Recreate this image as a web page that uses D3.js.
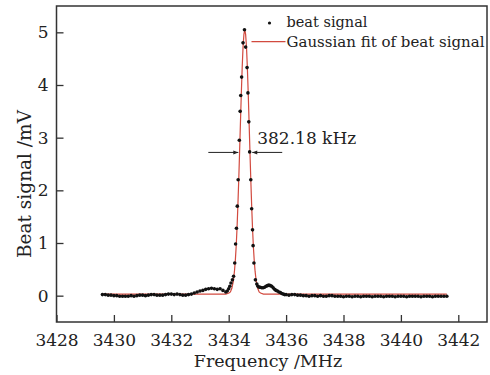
<!DOCTYPE html>
<html>
<head>
<meta charset="utf-8">
<script src="https://cdn.jsdelivr.net/npm/d3@7"></script>
<style>
  body { margin: 0; background: #fff; }
  svg text { font-family: "DejaVu Serif", serif; fill: #222; }
</style>
</head>
<body>
<svg></svg>
<script>
// Tick values
const xTicks = [3428, 3430, 3432, 3434, 3436, 3438, 3440, 3442];
const yTicks = [0, 1, 2, 3, 4, 5];

// Measured beat signal [MHz, mV]
const beatSignal = [
  [3429.6, 0.02], [3429.7, 0.02], [3429.8, 0.01], [3429.9, 0.01], [3430.0, 0.00], [3430.1, 0.00],
  [3430.2, -0.01], [3430.3, -0.01], [3430.4, -0.01], [3430.5, -0.01], [3430.6, 0.00], [3430.7, -0.01],
  [3430.8, 0.00], [3430.9, 0.01], [3431.0, 0.01], [3431.1, 0.00], [3431.2, 0.01], [3431.3, 0.02],
  [3431.4, 0.02], [3431.5, 0.01], [3431.6, 0.01], [3431.7, 0.01], [3431.8, 0.02], [3431.9, 0.03],
  [3432.0, 0.03], [3432.1, 0.02], [3432.2, 0.03], [3432.3, 0.02], [3432.4, 0.01], [3432.5, 0.01],
  [3432.6, 0.02], [3432.7, 0.03], [3432.8, 0.05], [3432.9, 0.07], [3433.0, 0.09], [3433.1, 0.10],
  [3433.2, 0.12], [3433.3, 0.13], [3433.4, 0.14], [3433.5, 0.13], [3433.6, 0.12], [3433.7, 0.13],
  [3433.8, 0.10], [3433.9, 0.07], [3433.95, 0.09], [3434.0, 0.13], [3434.04, 0.18], [3434.08, 0.24],
  [3434.13, 0.30], [3434.17, 0.37], [3434.21, 0.62], [3434.24, 0.98], [3434.27, 1.28], [3434.30, 1.70],
  [3434.33, 2.20], [3434.37, 2.95], [3434.40, 3.50], [3434.42, 3.80], [3434.45, 4.15], [3434.50, 4.80],
  [3434.55, 5.05], [3434.59, 4.72], [3434.64, 4.33], [3434.67, 3.85], [3434.70, 3.30], [3434.73, 2.73],
  [3434.77, 2.20], [3434.80, 1.65], [3434.83, 1.25], [3434.85, 0.95], [3434.88, 0.62], [3434.93, 0.30],
  [3434.98, 0.22], [3435.02, 0.18], [3435.06, 0.16], [3435.1, 0.16], [3435.15, 0.15], [3435.2, 0.15],
  [3435.25, 0.16], [3435.3, 0.18], [3435.35, 0.19], [3435.4, 0.20], [3435.45, 0.19], [3435.5, 0.18],
  [3435.55, 0.15], [3435.6, 0.12], [3435.65, 0.10], [3435.7, 0.09], [3435.75, 0.07], [3435.8, 0.06],
  [3435.85, 0.04], [3435.9, 0.03], [3435.95, 0.02], [3436.0, 0.02],
  [3436.1, 0.01], [3436.2, 0.02], [3436.3, 0.02], [3436.4, 0.01], [3436.5, 0.01], [3436.6, 0.00],
  [3436.7, 0.00], [3436.8, -0.01], [3436.9, 0.00], [3437.0, 0.00], [3437.1, -0.01], [3437.2, 0.00],
  [3437.3, -0.01], [3437.4, -0.01], [3437.5, 0.00], [3437.6, 0.00], [3437.7, -0.01], [3437.8, -0.01],
  [3437.9, -0.01], [3438.0, -0.02], [3438.1, -0.01], [3438.2, -0.01], [3438.3, -0.02], [3438.4, -0.01],
  [3438.5, -0.01], [3438.6, -0.02], [3438.7, -0.01], [3438.8, -0.01], [3438.9, -0.01], [3439.0, -0.02],
  [3439.1, -0.01], [3439.2, -0.01], [3439.3, -0.01], [3439.4, -0.02], [3439.5, -0.01], [3439.6, -0.01],
  [3439.7, -0.01], [3439.8, -0.02], [3439.9, -0.01], [3440.0, -0.01], [3440.1, -0.01], [3440.2, -0.02],
  [3440.3, -0.01], [3440.4, -0.01], [3440.5, -0.01], [3440.6, -0.01], [3440.7, -0.02], [3440.8, -0.01],
  [3440.9, -0.01], [3441.0, -0.01], [3441.1, -0.02], [3441.2, -0.01], [3441.3, -0.01], [3441.4, -0.01],
  [3441.5, -0.01], [3441.6, -0.01]
];

// Gaussian fit curve [MHz, mV]
const gaussFit = [
  [3429.6, 0.03], [3433.9, 0.03], [3434.01, 0.05], [3434.06, 0.07], [3434.11, 0.14], [3434.16, 0.27],
  [3434.20, 0.46], [3434.23, 0.66], [3434.26, 0.93], [3434.29, 1.28], [3434.32, 1.71], [3434.35, 2.20],
  [3434.38, 2.74], [3434.41, 3.30], [3434.44, 3.85], [3434.47, 4.33], [3434.50, 4.72], [3434.53, 4.96],
  [3434.56, 5.05], [3434.59, 4.96], [3434.62, 4.72], [3434.65, 4.33], [3434.68, 3.85], [3434.71, 3.30],
  [3434.74, 2.74], [3434.77, 2.20], [3434.80, 1.71], [3434.83, 1.28], [3434.86, 0.93], [3434.89, 0.66],
  [3434.92, 0.46], [3434.96, 0.27], [3435.01, 0.14], [3435.06, 0.07], [3435.11, 0.05], [3435.21, 0.03],
  [3441.6, 0.03]
];

// FWHM marker: left/right edges at half maximum
const fwhmEdges = [3434.37, 3434.75];
const fwhmLevel = 2.72;
const fwhmLabel = "382.18 kHz";

const legendLabels = ["beat signal", "Gaussian fit of beat signal"];

// Sizes
const W = 490, H = 375;
const margin = { l: 56.5, r: 3, t: 6, b: 53 };
const width = W - margin.l - margin.r;
const height = H - margin.t - margin.b;
const ink = "#333";
const red = "#d24a3f";

const svg = d3.select("svg")
  .attr("width", W)
  .attr("height", H);

const g = svg.append("g")
  .attr("transform", `translate(${margin.l},${margin.t})`);

// Scales
const x = d3.scaleLinear().domain([3428, 3443]).range([0, width]);
const y = d3.scaleLinear().domain([-0.5, 5.5]).range([height, 0]);

// Axes with inward ticks
const xAxis = g.append("g")
  .attr("transform", `translate(0,${height})`)
  .call(d3.axisBottom(x).tickValues(xTicks).tickFormat(d3.format("d"))
    .tickSizeInner(-7).tickSizeOuter(0).tickPadding(12));

const yAxis = g.append("g")
  .call(d3.axisLeft(y).tickValues(yTicks).tickFormat(d3.format("d"))
    .tickSizeInner(-7).tickSizeOuter(0).tickPadding(8));

[xAxis, yAxis].forEach(a => {
  a.select(".domain").remove();
  a.selectAll(".tick line").attr("stroke", ink).attr("stroke-width", 1.3);
  a.selectAll(".tick text")
    .style("font-family", "'DejaVu Serif', serif")
    .attr("font-size", 17).attr("fill", "#222");
});

// Frame
g.append("rect")
  .attr("width", width).attr("height", height)
  .attr("fill", "none").attr("stroke", ink).attr("stroke-width", 1.5);

// Fit line
const line = d3.line().x(d => x(d[0])).y(d => y(d[1]));
g.append("path")
  .datum(gaussFit)
  .attr("d", line)
  .attr("fill", "none")
  .attr("stroke", red)
  .attr("stroke-width", 1.2);

// Beat signal dots
g.selectAll("circle.pt")
  .data(beatSignal)
  .enter()
  .append("circle")
    .attr("class", "pt")
    .attr("cx", d => x(d[0]))
    .attr("cy", d => y(d[1]))
    .attr("r", 1.8)
    .attr("fill", "#111");

// FWHM arrows
const defs = svg.append("defs");
defs.append("marker")
  .attr("id", "head")
  .attr("viewBox", "0 0 10 10")
  .attr("refX", 10).attr("refY", 5)
  .attr("markerWidth", 7).attr("markerHeight", 5)
  .attr("orient", "auto")
  .append("path").attr("d", "M0,1 L10,5 L0,9 Z").attr("fill", "#222");

const ay = y(fwhmLevel);
g.append("line")
  .attr("x1", x(fwhmEdges[0]) - 31).attr("x2", x(fwhmEdges[0]) - 1)
  .attr("y1", ay).attr("y2", ay)
  .attr("stroke", "#222").attr("stroke-width", 1)
  .attr("marker-end", "url(#head)");
g.append("line")
  .attr("x1", x(fwhmEdges[1]) + 32).attr("x2", x(fwhmEdges[1]) + 2)
  .attr("y1", ay).attr("y2", ay)
  .attr("stroke", "#222").attr("stroke-width", 1)
  .attr("marker-end", "url(#head)");
g.append("text")
  .attr("x", x(fwhmEdges[1]) + 7)
  .attr("y", ay - 8)
  .attr("font-size", 17)
  .text(fwhmLabel);

// Legend
const lg = g.append("g").attr("transform", `translate(${286.5 - margin.l},0)`);
lg.append("circle").attr("cx", -17).attr("cy", 17).attr("r", 1.6).attr("fill", "#111");
lg.append("text").attr("x", 0).attr("y", 21).attr("font-size", 14.5).text(legendLabels[0]);
lg.append("line")
  .attr("x1", -35).attr("x2", -1).attr("y1", 35.7).attr("y2", 35.7)
  .attr("stroke", red).attr("stroke-width", 1.2);
lg.append("text").attr("x", 0).attr("y", 41)
  .attr("font-size", 14.5)
  .attr("textLength", 198).attr("lengthAdjust", "spacingAndGlyphs")
  .text(legendLabels[1]);

// Axis titles
svg.append("text")
  .attr("x", 268)
  .attr("y", 367)
  .attr("text-anchor", "middle")
  .attr("font-size", 17.5)
  .text("Frequency /MHz");

svg.append("text")
  .attr("transform", `translate(31,184) rotate(-90)`)
  .attr("text-anchor", "middle")
  .attr("font-size", 18.5)
  .text("Beat signal /mV");
</script>
</body>
</html>
